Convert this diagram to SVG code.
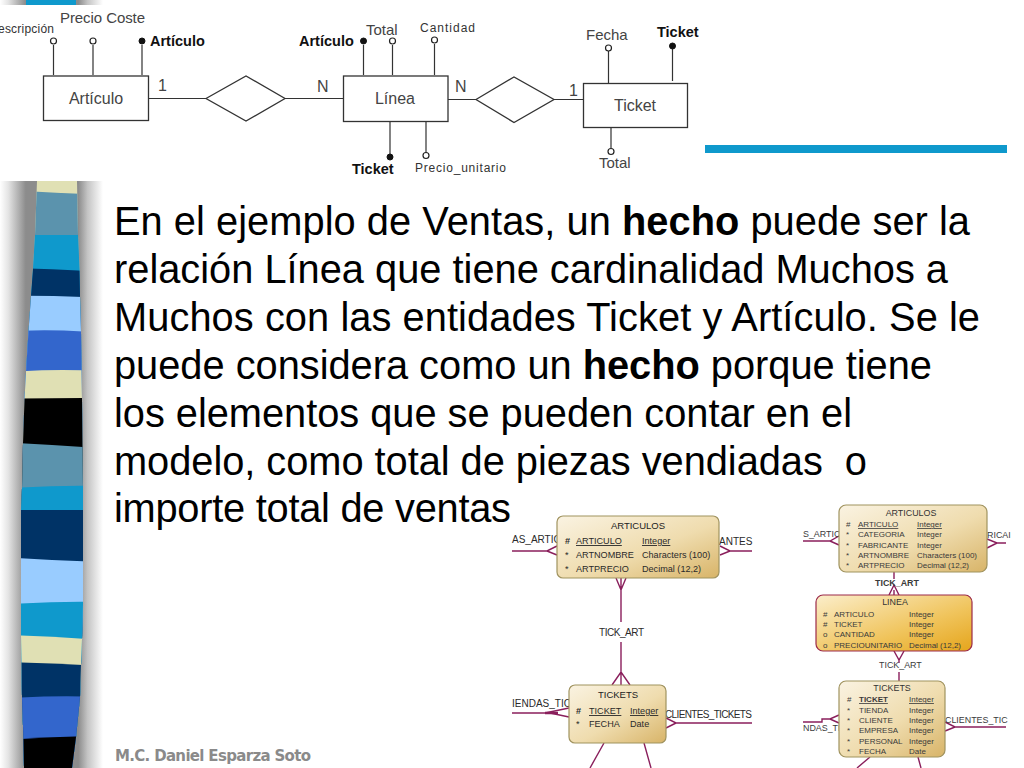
<svg xmlns="http://www.w3.org/2000/svg" width="1024" height="768" viewBox="0 0 1024 768">
<style>
text{font-family:"Liberation Sans",Arial,sans-serif}
.e{fill:#fff;stroke:#333;stroke-width:1.3}
.l{fill:none;stroke:#333;stroke-width:1.2}
.o{fill:#fff;stroke:#222;stroke-width:1.2}
.f{fill:#111;stroke:#111}
.t{font-size:15px;fill:#444}
.s{font-size:12px;fill:#333}
.b{font-size:14.500px;font-weight:700;fill:#111}
.n{font-size:16px;fill:#444}
.m{font-size:39.800px;fill:#000;white-space:pre}
.c{fill:none;stroke:#8a1f5c;stroke-width:1.4}
.q{font-size:10px;fill:#2a2a2a}
.r{font-size:9.100px;fill:#2a2a2a}
.r2{font-size:8px;fill:#3a3a3a}
.q2{font-size:8.900px;fill:#3a3a3a}
.h{font-size:9.500px;fill:#222;text-anchor:middle}
.h2{font-size:8.900px;fill:#333;text-anchor:middle}
.box{fill:url(#tan);stroke:#a0935f;stroke-width:1.2}
.u{text-decoration:underline}
</style>
<defs>
<linearGradient id="sh" x1="0" x2="1" y1="0" y2="0">
<stop offset="0" stop-color="#fff"/><stop offset=".08" stop-color="#e4e4e4"/><stop offset=".25" stop-color="#8c8c8c"/><stop offset=".76" stop-color="#8c8c8c"/><stop offset=".85" stop-color="#c4c4c4"/><stop offset="1" stop-color="#fff"/>
</linearGradient>
<linearGradient id="tan" x1="0" x2="1" y1="0" y2="1">
<stop offset="0" stop-color="#faf3e2"/><stop offset=".55" stop-color="#efdcae"/><stop offset="1" stop-color="#d8b468"/>
</linearGradient>
<linearGradient id="gold" x1="0" x2="1" y1="0" y2="1">
<stop offset="0" stop-color="#fbeecb"/><stop offset=".6" stop-color="#f0c45c"/><stop offset="1" stop-color="#e5a51c"/>
</linearGradient>
<clipPath id="strip"><polygon points="37,181 77,181 78,235 79.500,269 80,296 81,331 81.500,372 82,399 82.500,443 83,488 83,604 82,639 81,665 80,697 76,737 72,768 24,768 23.500,740 22,698 21.500,662 21,636 21,510 22,488 23,443 24.500,399 26,372 28.500,331 31,296 33,269 35,235"/></clipPath>
</defs>
<rect width="1024" height="768" fill="#fff"/>
<g id="side-strip">
<rect x="0" y="181" width="103" height="587" fill="url(#sh)"/>
<rect x="0" y="0" width="103" height="5" fill="url(#sh)"/>
<rect x="26" y="0" width="50" height="5" fill="#0f99cc"/>
<g clip-path="url(#strip)">
<rect x="0" y="181" width="100" height="587" fill="#e0e0b4"/>
<path d="M0 190Q50 192 100 195V768H0Z" fill="#5b93ad"/>
<path d="M0 235H100V768H0Z" fill="#0f99cc"/>
<path d="M0 268Q50 268 100 272V768H0Z" fill="#003366"/>
<path d="M0 296Q50 295 100 298V768H0Z" fill="#99ccff"/>
<path d="M0 332Q50 328 100 333V768H0Z" fill="#3366cc"/>
<path d="M0 373Q50 368 100 371V768H0Z" fill="#e0e0b4"/>
<path d="M0 399Q50 398 100 398V768H0Z" fill="#000"/>
<path d="M0 442Q50 445 100 448V768H0Z" fill="#5b93ad"/>
<path d="M0 489Q50 485 100 486V768H0Z" fill="#0f99cc"/>
<path d="M0 510H100V768H0Z" fill="#003366"/>
<path d="M0 557Q50 560 100 562V768H0Z" fill="#99ccff"/>
<path d="M0 605Q50 601 100 602V768H0Z" fill="#0f99cc"/>
<path d="M0 635Q50 636 100 640V768H0Z" fill="#e0e0b4"/>
<path d="M0 662Q50 663 100 666V768H0Z" fill="#003366"/>
<path d="M0 699Q50 695 100 697V768H0Z" fill="#3366cc"/>
<path d="M0 741Q50 736 100 736V768H0Z" fill="#000"/>
</g>
</g>
<rect id="accent-bar" x="705" y="145" width="302" height="8" fill="#0f99cc"/>
<g id="er1-connectors">
<path class="l" d="M148 98.500H206M285 98.500H344M448 99.500H476M554 99.500H584"/>
<path class="l" d="M53.500 75V45M93 75V45M142 75V45M363.500 75V45M392.500 75V45M434.500 75V44M390 122V157M426 122V155M608.500 83V51M672.500 81V49M611 128V148"/>
<circle class="o" cx="53.500" cy="41" r="3"/><circle class="o" cx="93" cy="41" r="3"/><circle class="f" cx="142" cy="41" r="3"/>
<circle class="f" cx="363.500" cy="41" r="3"/><circle class="o" cx="392.500" cy="41" r="3"/><circle class="o" cx="434.500" cy="40" r="3"/>
<circle class="f" cx="390" cy="157" r="3"/><circle class="o" cx="426" cy="155.500" r="3"/>
<circle class="o" cx="608.500" cy="48" r="3"/><circle class="f" cx="672.500" cy="46" r="3"/><circle class="o" cx="611" cy="151.500" r="3"/>
</g>
<g id="er1-articulo"><rect class="e" x="43.500" y="76" width="105" height="44.500"/><text class="n" x="96" y="104" text-anchor="middle">Artículo</text></g>
<g id="er1-rel1"><polygon class="e" points="206,98.500 246,76 285,98.500 246,121"/></g>
<g id="er1-linea"><rect class="e" x="343.500" y="76" width="104.500" height="45.500"/><text class="n" x="395" y="104" text-anchor="middle">Línea</text></g>
<g id="er1-rel2"><polygon class="e" points="476,99.500 514,77 554,99.500 514,122.500"/></g>
<g id="er1-ticket"><rect class="e" x="583.500" y="83.500" width="104" height="44"/><text class="n" x="635" y="111" text-anchor="middle">Ticket</text></g>
<g id="er1-labels">
<text class="s" x="-2" y="33" textLength="56">escripción</text>
<text class="t" x="60" y="23" textLength="85">Precio Coste</text>
<text class="b" x="150" y="46">Artículo</text>
<text class="b" x="299" y="46">Artículo</text>
<text class="t" x="366" y="35">Total</text>
<text class="s" x="420" y="32" textLength="55">Cantidad</text>
<text class="t" x="586" y="40">Fecha</text>
<text class="b" x="657" y="37">Ticket</text>
<text class="t" x="599" y="168">Total</text>
<text class="b" x="352" y="174">Ticket</text>
<text class="s" x="415" y="172" textLength="91">Precio_unitario</text>
<text class="n" x="158" y="91">1</text>
<text class="n" x="317" y="92">N</text>
<text class="n" x="455" y="92">N</text>
<text class="n" x="569" y="96">1</text>
</g>
<g id="slide-text">
<text class="m" x="114" y="235" textLength="856">En el ejemplo de Ventas, un <tspan font-weight="700">hecho</tspan> puede ser la</text>
<text class="m" x="114" y="283" textLength="834">relación Línea que tiene cardinalidad Muchos a</text>
<text class="m" x="114" y="331" textLength="866">Muchos con las entidades Ticket y Artículo. Se le</text>
<text class="m" x="114" y="379" textLength="818">puede considera como un <tspan font-weight="700">hecho</tspan> porque tiene</text>
<text class="m" x="114" y="427" textLength="738">los elementos que se pueden contar en el</text>
<text class="m" x="114" y="475" textLength="753">modelo, como total de piezas vendiadas  o</text>
<text class="m" x="114" y="522" textLength="397">importe total de ventas</text>
</g>
<text id="footer" x="115" y="761" font-size="15" font-weight="700" fill="#8a8a8a" style="font-family:'DejaVu Sans',Verdana,sans-serif" textLength="196">M.C. Daniel Esparza Soto</text>
<g id="er2-connectors">
<path class="c" d="M512 551H547L557 546M547 551L557 555M720 546L730 551H752M720 555L730 551M621 578V622M621 642V685M616 578L621 590L626 578M612 685L621 672L630 685"/>
<path class="c" d="M512 713H545L569 708M550 713L569 717M666 718L676 723H752M666 728L676 723M604 743L590 768M644 743L651 768" />
<path d="M545 713H558" stroke="#8a1f5c" stroke-width="2.500"/>
</g>
<g id="er2-labels">
<text class="q" x="512" y="543">AS_ARTIC</text>
<text class="q" x="719" y="545">ANTES</text>
<text class="q" x="599" y="636" textLength="45">TICK_ART</text>
<text class="q" x="512" y="707">IENDAS_TICK</text>
<text class="q" x="665" y="718" textLength="87">CLIENTES_TICKETS</text>
</g>
<g id="er2-articulos">
<rect class="box" x="557" y="516" width="162" height="62" rx="6"/>
<text class="h" x="638" y="529">ARTICULOS</text>
<text class="r" x="565" y="544" font-weight="700">#</text><text class="r u" x="576" y="544">ARTICULO</text><text class="r u" x="642" y="544">Integer</text>
<text class="r" x="565" y="558">*</text><text class="r" x="576" y="558">ARTNOMBRE</text><text class="r" x="642" y="558">Characters (100)</text>
<text class="r" x="565" y="572">*</text><text class="r" x="576" y="572">ARTPRECIO</text><text class="r" x="642" y="572">Decimal (12,2)</text>
</g>
<g id="er2-tickets">
<rect class="box" x="569" y="685" width="97" height="58" rx="6"/>
<text class="h" x="618" y="698">TICKETS</text>
<text class="r" x="576" y="714" font-weight="700">#</text><text class="r u" x="589" y="714">TICKET</text><text class="r u" x="630" y="714">Integer</text>
<text class="r" x="576" y="727">*</text><text class="r" x="589" y="727">FECHA</text><text class="r" x="630" y="727">Date</text>
</g>
<g id="er3-connectors">
<path class="c" d="M803 541H830L839 536M830 541L839 545M987 539L997 543H1006M987 548L997 543M894 572V579M894 590V595M889 595L894 585L899 595M894 651L899 660L904 651M899 660V663M899 672V681"/>
<path class="c" d="M803 722H822V719H830L839 715M830 719L839 723M945 722L955 727H1006M945 731L955 727M870 757L857 768M918 757L921 768"/>
</g>
<g id="er3-labels">
<text class="q2" x="803" y="537">S_ARTICU</text>
<text class="q2" x="987" y="538">RICAI</text>
<text class="q2" x="875" y="586" font-weight="700">TICK_ART</text>
<text class="q2" x="879" y="668">TICK_ART</text>
<text class="q2" x="803" y="731">NDAS_TIC</text>
<text class="q2" x="945" y="723">CLIENTES_TIC</text>
</g>
<g id="er3-articulos">
<rect class="box" x="839" y="505" width="148" height="67" rx="7"/>
<text class="h2" x="911" y="516">ARTICULOS</text>
<text class="r2" x="846" y="527">#</text><text class="r2 u" x="858" y="527">ARTICULO</text><text class="r2 u" x="917" y="527">Integer</text>
<text class="r2" x="846" y="537">*</text><text class="r2" x="858" y="537">CATEGORIA</text><text class="r2" x="917" y="537">Integer</text>
<text class="r2" x="846" y="547.500">*</text><text class="r2" x="858" y="547.500">FABRICANTE</text><text class="r2" x="917" y="547.500">Integer</text>
<text class="r2" x="846" y="558">*</text><text class="r2" x="858" y="558">ARTNOMBRE</text><text class="r2" x="917" y="558">Characters (100)</text>
<text class="r2" x="846" y="568">*</text><text class="r2" x="858" y="568">ARTPRECIO</text><text class="r2" x="917" y="568">Decimal (12,2)</text>
</g>
<g id="er3-linea">
<rect x="816" y="595" width="156" height="56" rx="7" fill="url(#gold)" stroke="#9c2a4a" stroke-width="1.200"/>
<text class="h2" x="895" y="605">LINEA</text>
<text class="r2" x="823" y="617">#</text><text class="r2" x="834" y="617">ARTICULO</text><text class="r2" x="909" y="617">Integer</text>
<text class="r2" x="823" y="627">#</text><text class="r2" x="834" y="627">TICKET</text><text class="r2" x="909" y="627">Integer</text>
<text class="r2" x="823" y="637">o</text><text class="r2" x="834" y="637">CANTIDAD</text><text class="r2" x="909" y="637">Integer</text>
<text class="r2" x="823" y="648">o</text><text class="r2" x="834" y="648">PRECIOUNITARIO</text><text class="r2" x="909" y="648">Decimal (12,2)</text>
</g>
<g id="er3-tickets">
<rect class="box" x="839" y="681" width="106" height="76" rx="7"/>
<text class="h2" x="892" y="691">TICKETS</text>
<text class="r2" x="847" y="702">#</text><text class="r2 u" x="859" y="702" font-weight="700">TICKET</text><text class="r2 u" x="909" y="702">Integer</text>
<text class="r2" x="847" y="713">*</text><text class="r2" x="859" y="713">TIENDA</text><text class="r2" x="909" y="713">Integer</text>
<text class="r2" x="847" y="723">*</text><text class="r2" x="859" y="723">CLIENTE</text><text class="r2" x="909" y="723">Integer</text>
<text class="r2" x="847" y="733">*</text><text class="r2" x="859" y="733">EMPRESA</text><text class="r2" x="909" y="733">Integer</text>
<text class="r2" x="847" y="744">*</text><text class="r2" x="859" y="744">PERSONAL</text><text class="r2" x="909" y="744">Integer</text>
<text class="r2" x="847" y="754">*</text><text class="r2" x="859" y="754">FECHA</text><text class="r2" x="909" y="754">Date</text>
</g>
</svg>
